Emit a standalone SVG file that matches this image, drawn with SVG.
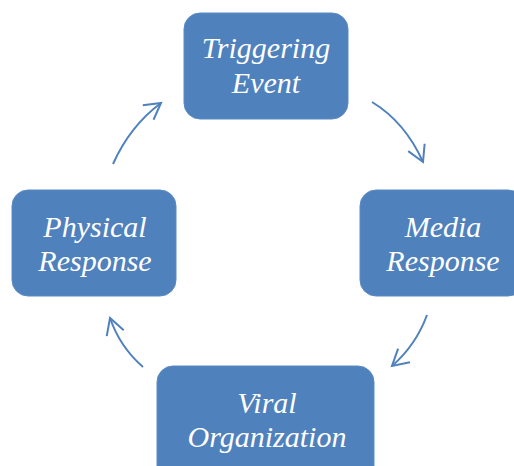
<svg xmlns="http://www.w3.org/2000/svg" width="514" height="466" viewBox="0 0 514 466">
<style>
.box{fill:#4F81BD;stroke:#5B8BC4;stroke-width:1}
.lbl{font-family:"Liberation Serif","Times New Roman",serif;font-style:italic;font-size:30px;fill:#ffffff;text-anchor:middle}
.arr{fill:none;stroke:#4F81BD;stroke-width:2}
</style>
<defs>
<marker id="ah" markerUnits="userSpaceOnUse" markerWidth="20" markerHeight="22" refX="17" refY="10" orient="auto" viewBox="0 0 20 20">
<path d="M1,1 L17,10 L1,19" fill="none" stroke="#4F81BD" stroke-width="2"/>
</marker>
</defs>
<rect width="514" height="466" fill="#ffffff"/>
<g id="connectors">
<path class="arr" d="M372,102 Q405,122 423,162" marker-end="url(#ah)"/>
<path class="arr" d="M427,315 Q416,345 392,366" marker-end="url(#ah)"/>
<path class="arr" d="M143,367 Q120,347 110,318" marker-end="url(#ah)"/>
<path class="arr" d="M113,164 Q130,126 161,103" marker-end="url(#ah)"/>
</g>
<g id="triggering-event">
<rect class="box" x="184" y="13" width="164" height="106" rx="16"/>
<text class="lbl" x="266" y="58">Triggering</text>
<text class="lbl" x="266" y="93">Event</text>
</g>
<g id="media-response">
<rect class="box" x="360" y="190" width="164" height="106" rx="16"/>
<text class="lbl" x="443" y="237">Media</text>
<text class="lbl" x="443" y="271">Response</text>
</g>
<g id="viral-organization">
<rect class="box" x="157" y="366" width="217" height="116" rx="16"/>
<text class="lbl" x="267" y="413">Viral</text>
<text class="lbl" x="267" y="447">Organization</text>
</g>
<g id="physical-response">
<rect class="box" x="12" y="190" width="164" height="106" rx="16"/>
<text class="lbl" x="95" y="237">Physical</text>
<text class="lbl" x="95" y="271">Response</text>
</g>
</svg>
